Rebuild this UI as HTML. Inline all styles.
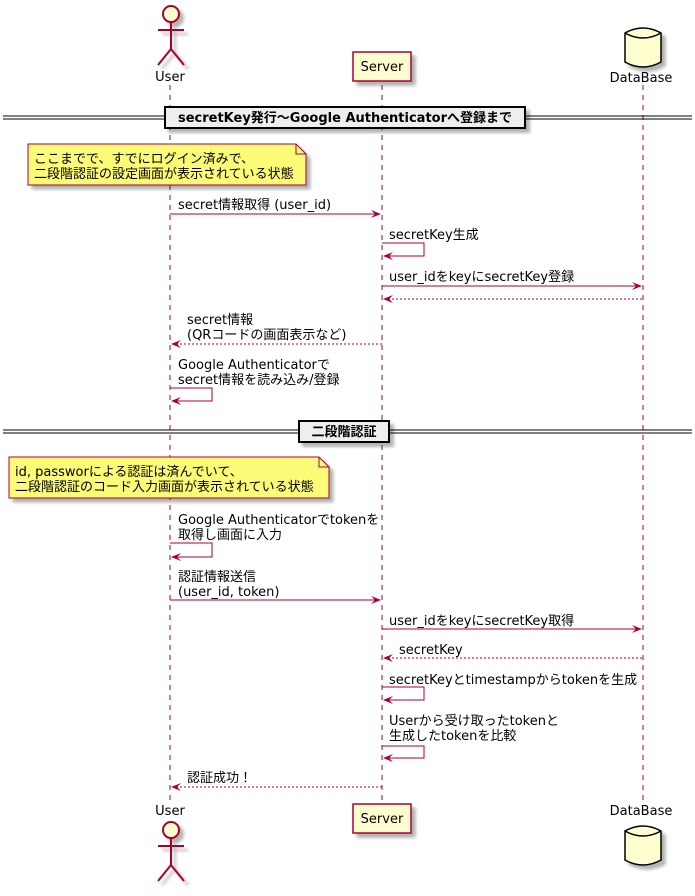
<!DOCTYPE html>
<html><head><meta charset="utf-8"><style>
html,body{margin:0;padding:0;background:#fff}
svg text{font-family:"DejaVu Sans","Noto Sans CJK JP",sans-serif;font-size:13px;fill:#000}
</style></head><body>
<svg width="695" height="891" viewBox="0 0 695 891" xmlns="http://www.w3.org/2000/svg">
<defs>
<filter id="sh" x="-20%" y="-20%" width="150%" height="150%"><feGaussianBlur in="SourceAlpha" stdDeviation="1.5"/><feOffset dx="4" dy="4"/><feComponentTransfer><feFuncA type="linear" slope="0.3"/></feComponentTransfer><feMerge><feMergeNode/><feMergeNode in="SourceGraphic"/></feMerge></filter>
</defs>
<!-- lifelines -->
<g stroke="#A80036" stroke-width="1" stroke-dasharray="5,5">
<line x1="170" y1="85" x2="170" y2="800"/>
<line x1="382" y1="85" x2="382" y2="800"/>
<line x1="643" y1="85" x2="643" y2="800"/>
</g>
<!-- top actor -->
<g stroke="#A80036" stroke-width="2" fill="#FEFECE" filter="url(#sh)">
<circle cx="171" cy="14" r="8"/>
<path d="M171 22 V49 M158 30 H184 M171 49 L158 65 M171 49 L184 65" fill="none"/>
</g>
<text x="170" y="81" text-anchor="middle" font-size="14">User</text>
<rect x="353" y="52" width="58" height="29" fill="#FEFECE" stroke="#A80036" stroke-width="1.5" filter="url(#sh)"/>
<text x="382" y="71" text-anchor="middle" font-size="14">Server</text>
<g filter="url(#sh)" stroke="#000" stroke-width="1.5" fill="#FEFECE">
<path d="M625 33 V62 Q643 72 661 62 V33 Q643 23 625 33 Z"/>
<path d="M625 33 Q643 43 661 33" fill="none"/>
</g>
<text x="641" y="82" text-anchor="middle" font-size="14">DataBase</text>
<!-- bottom -->
<text x="170" y="815" text-anchor="middle" font-size="14">User</text>
<g stroke="#A80036" stroke-width="2" fill="#FEFECE" filter="url(#sh)">
<circle cx="171" cy="830" r="8"/>
<path d="M171 838 V865 M158 846 H184 M171 865 L158 881 M171 865 L184 881" fill="none"/>
</g>
<rect x="353" y="804" width="58" height="29" fill="#FEFECE" stroke="#A80036" stroke-width="1.5" filter="url(#sh)"/>
<text x="382" y="823" text-anchor="middle" font-size="14">Server</text>
<text x="641" y="815" text-anchor="middle" font-size="14">DataBase</text>
<g filter="url(#sh)" stroke="#000" stroke-width="1.5" fill="#FEFECE">
<path d="M625 831 V860 Q643 870 661 860 V831 Q643 821 625 831 Z"/>
<path d="M625 831 Q643 841 661 831" fill="none"/>
</g>
<!-- dividers -->
<g stroke="#000" stroke-width="1">
<line x1="3" y1="116" x2="692" y2="116"/><line x1="3" y1="119" x2="692" y2="119"/>
<line x1="3" y1="430" x2="692" y2="430"/><line x1="3" y1="433" x2="692" y2="433"/>
</g>
<rect x="165" y="107" width="360" height="21" fill="#EEEEEE" stroke="#000" stroke-width="2" filter="url(#sh)"/>
<text x="345" y="122" text-anchor="middle" font-weight="bold">secretKey発行〜Google Authenticatorへ登録まで</text>
<rect x="299" y="421" width="90" height="21" fill="#EEEEEE" stroke="#000" stroke-width="2" filter="url(#sh)"/>
<text x="344" y="436" text-anchor="middle" font-weight="bold">二段階認証</text>
<!-- notes -->
<g stroke="#A80036" stroke-width="1" fill="#FBFB77" filter="url(#sh)">
<path d="M28 144 H296 L306 154 V185 H28 Z"/>
<path d="M9 457 H319 L329 467 V498 H9 Z"/>
</g>
<g stroke="#A80036" fill="none"><path d="M296 144 V154 H306"/><path d="M319 457 V467 H329"/></g>
<text x="34" y="163">ここまでで、すでにログイン済みで、</text>
<text x="34" y="178">二段階認証の設定画面が表示されている状態</text>
<text x="15" y="476">id, passworによる認証は済んでいて、</text>
<text x="15" y="491">二段階認証のコード入力画面が表示されている状態</text>
<!-- messages -->
<g stroke="#A80036" stroke-width="1" fill="none">
<line x1="170" y1="214" x2="380" y2="214"/>
<path d="M382 243 H424 V256 H384"/>
<line x1="382" y1="286" x2="641" y2="286"/>
<line x1="384" y1="299" x2="643" y2="299" stroke-dasharray="2,2"/>
<line x1="172" y1="344" x2="382" y2="344" stroke-dasharray="2,2"/>
<path d="M170 388 H212 V401 H172"/>
<path d="M170 543 H212 V557 H172"/>
<line x1="170" y1="600" x2="380" y2="600"/>
<line x1="382" y1="629" x2="641" y2="629"/>
<line x1="384" y1="658" x2="643" y2="658" stroke-dasharray="2,2"/>
<path d="M382 687 H424 V700 H384"/>
<path d="M382 746 H424 V758 H384"/>
<line x1="172" y1="787" x2="382" y2="787" stroke-dasharray="2,2"/>
</g>
<g fill="#A80036">
<polygon points="371,210 381,214 371,218 375,214"/>
<polygon points="393,252 383,256 393,260 389,256"/>
<polygon points="632,282 642,286 632,290 636,286"/>
<polygon points="393,295 383,299 393,303 389,299"/>
<polygon points="181,340 171,344 181,348 177,344"/>
<polygon points="181,397 171,401 181,405 177,401"/>
<polygon points="181,553 171,557 181,561 177,557"/>
<polygon points="371,596 381,600 371,604 375,600"/>
<polygon points="632,625 642,629 632,633 636,629"/>
<polygon points="393,654 383,658 393,662 389,658"/>
<polygon points="393,696 383,700 393,704 389,700"/>
<polygon points="393,754 383,758 393,762 389,758"/>
<polygon points="181,783 171,787 181,791 177,787"/>
</g>
<text x="178" y="209">secret情報取得 (user_id)</text>
<text x="389" y="239">secretKey生成</text>
<text x="389" y="281">user_idをkeyにsecretKey登録</text>
<text x="187" y="324">secret情報</text>
<text x="187" y="339">(QRコードの画面表示など)</text>
<text x="178" y="369">Google Authenticatorで</text>
<text x="178" y="384">secret情報を読み込み/登録</text>
<text x="178" y="524">Google Authenticatorでtokenを</text>
<text x="178" y="539">取得し画面に入力</text>
<text x="178" y="581">認証情報送信</text>
<text x="178" y="596">(user_id, token)</text>
<text x="389" y="625">user_idをkeyにsecretKey取得</text>
<text x="399" y="654">secretKey</text>
<text x="389" y="684">secretKeyとtimestampからtokenを生成</text>
<text x="389" y="725">Userから受け取ったtokenと</text>
<text x="389" y="740">生成したtokenを比較</text>
<text x="187" y="782">認証成功！</text>
</svg>
</body></html>
